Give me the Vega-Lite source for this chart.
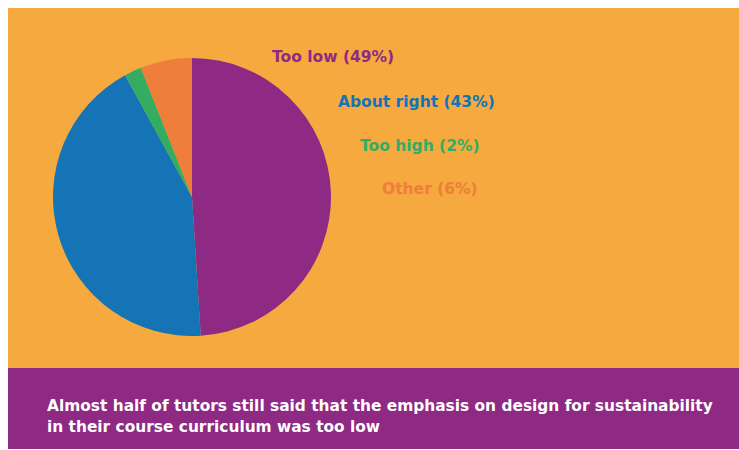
{
  "$schema": "https://vega.github.io/schema/vega-lite/v6.json",
  "background": "white",
  "padding": {"left": 8, "top": 8, "right": 0, "bottom": 0},
  "config": {"view": {"stroke": null}, "font": "DejaVu Sans"},
  "datasets": {
    "answers": [
      {"answer": "Too low", "share": 49, "label": "Too low (49%)", "rank": 1},
      {"answer": "About right", "share": 43, "label": "About right (43%)", "rank": 2},
      {"answer": "Too high", "share": 2, "label": "Too high (2%)", "rank": 3},
      {"answer": "Other", "share": 6, "label": "Other (6%)", "rank": 4}
    ]
  },
  "spacing": 0,
  "vconcat": [
    {
      "width": 760,
      "height": 18,
      "view": {"fill": "#F5A93F"},
      "data": {"values": [{"k": 1}]},
      "mark": {"type": "text"},
      "encoding": {"text": {"value": ""}}
    },
    {
      "spacing": 0,
      "bounds": "flush",
      "hconcat": [
        {
          "width": 368,
          "height": 342,
          "view": {"fill": "#F5A93F"},
          "data": {"name": "answers"},
          "mark": {"type": "arc", "outerRadius": 139},
          "encoding": {
            "theta": {"field": "share", "type": "quantitative", "stack": true},
            "color": {
              "field": "answer",
              "type": "nominal",
              "scale": {"domain": ["Too low", "About right", "Too high", "Other"], "range": ["#8E2A84", "#1474B5", "#34AD63", "#EE7E3A"]},
              "legend": null
            },
            "order": {"field": "rank", "type": "quantitative"}
          }
        },
        {
          "width": 400,
          "height": 342,
          "view": {"fill": "#F5A93F"},
          "data": {"name": "answers"},
          "encoding": {
            "color": {
              "field": "answer",
              "type": "nominal",
              "scale": {"domain": ["Too low", "About right", "Too high", "Other"], "range": ["#8E2A84", "#1474B5", "#34AD63", "#EE7E3A"]},
              "legend": null
            },
            "text": {"field": "label"}
          },
          "layer": [
            {"transform": [{"filter": "datum.answer === 'Too low'"}], "mark": {"type": "text", "align": "left", "dx": -304, "dy": -140, "fontSize": 15.5, "fontWeight": "bold"}},
            {"transform": [{"filter": "datum.answer === 'About right'"}], "mark": {"type": "text", "align": "left", "dx": -238, "dy": -95, "fontSize": 15.5, "fontWeight": "bold"}},
            {"transform": [{"filter": "datum.answer === 'Too high'"}], "mark": {"type": "text", "align": "left", "dx": -216, "dy": -51, "fontSize": 15.5, "fontWeight": "bold"}},
            {"transform": [{"filter": "datum.answer === 'Other'"}], "mark": {"type": "text", "align": "left", "dx": -194, "dy": -8, "fontSize": 15.5, "fontWeight": "bold"}}
          ]
        }
      ]
    },
    {
      "width": 760,
      "height": 81,
      "view": {"fill": "#8E2A84"},
      "title": {
        "text": ["Almost half of tutors still said that the emphasis on design for sustainability", "in their course curriculum was too low"],
        "orient": "top",
        "anchor": "start",
        "frame": "group",
        "offset": -79,
        "dx": 39,
        "baseline": "alphabetic",
        "color": "#FFFFFF",
        "font": "DejaVu Sans",
        "fontSize": 15.4,
        "fontWeight": "bold",
        "lineHeight": 21
      },
      "data": {"values": [{"k": 1}]},
      "mark": {"type": "text"},
      "encoding": {"text": {"value": ""}}
    }
  ]
}
